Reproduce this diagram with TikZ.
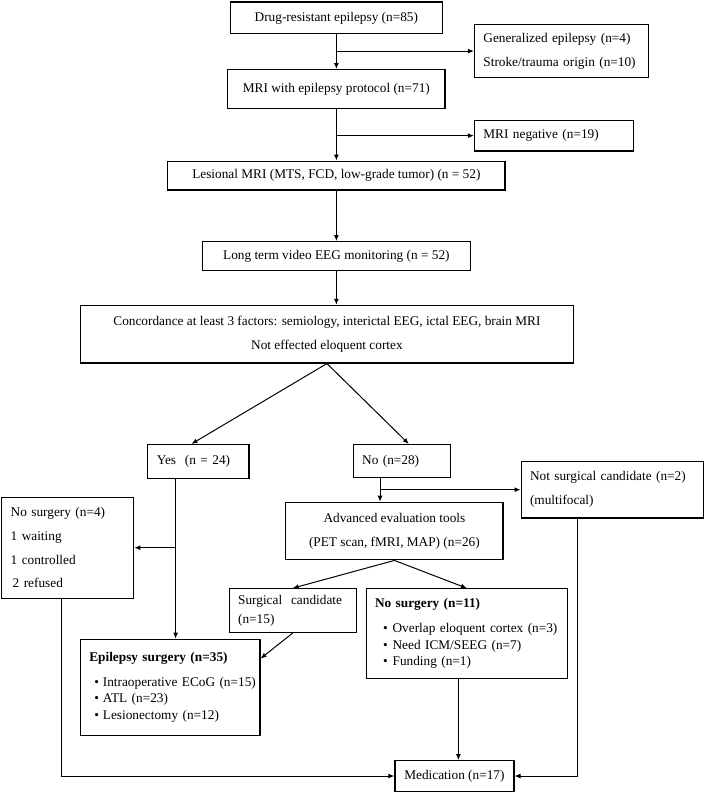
\documentclass[tikz,border=0pt]{standalone}
\usepackage{fontspec}
\setmainfont{Liberation Serif}
\usetikzlibrary{positioning, arrows.meta}

\begin{document}
\begin{tikzpicture}[
        x=1pt, y=1pt,
        node distance=35pt and 30pt,
        >={Latex[width=5pt,length=6pt]},
        box/.style={rectangle, draw=black, line width=1.2pt, inner sep=0pt, align=center, font=\fontsize{13.4}{24}\selectfont},
        listbox/.style={box, align=left, inner xsep=9pt},
        bulletbox/.style={listbox, font=\fontsize{13.4}{17}\selectfont},
        line/.style={draw, ->, line width=1pt},
        mainline/.style={line, line width=1.4pt},
        ]

        \path[fill=white] (0,0) rectangle (709,-792);

        % Place nodes down the main column
        \node [box, minimum width=214pt, minimum height=32pt] (drug) at (339,-18) {Drug-resistant epilepsy (n=85)};
        \node [listbox, text width=157pt, minimum height=53pt, right=31pt of drug, yshift=-33.5pt] (generalized) {Generalized epilepsy (n=4)\\Stroke/trauma origin (n=10)};
        \node [box, minimum width=219pt, minimum height=39pt, below=35pt of drug] (mri) {MRI with epilepsy protocol (n=71)};
        \node [listbox, text width=142pt, minimum height=31pt, right=28.5pt of mri, yshift=-47pt] (negative) {MRI negative (n=19)};
        \node [box, minimum width=340pt, minimum height=29pt, below=52pt of mri] (lesional) {Lesional MRI (MTS, FCD, low-grade tumor) (n = 52)};
        \node [box, minimum width=270pt, minimum height=29pt, below=51pt of lesional] (video) {Long term video EEG monitoring (n = 52)};
        \node [box, minimum width=497pt, minimum height=58pt, below=34pt of video, xshift=-9.5pt] (concordance) {Concordance at least 3 factors: semiology, interictal EEG, ictal EEG, brain MRI\\Not effected eloquent cortex};

        % Yes and no branches
        \node [listbox, text width=84pt, minimum height=34pt, below=81pt of concordance, xshift=-129.5pt] (yes) {Yes~ (n = 24)};
        \node [listbox, text width=80pt, minimum height=33pt, below=81pt of concordance, xshift=75.5pt] (no) {No (n=28)};
        \node [box, minimum width=219pt, minimum height=58pt, below=24pt of no, xshift=-7.5pt] (advanced) {Advanced evaluation tools\\(PET scan, fMRI, MAP) (n=26)};
        \node [listbox, text width=166pt, minimum height=57pt, right=70pt of no, yshift=-29pt] (notcandidate) {Not surgical candidate (n=2)\\(multifocal)};
        \node [listbox, text width=115pt, minimum height=102pt, left=13pt of yes, yshift=-87pt] (nosurgeryA) {No surgery (n=4)\\1 waiting\\1 controlled\\\hspace*{2pt}2 refused};
        \node [listbox, text width=110pt, minimum height=44pt, below=28pt of advanced, xshift=-102.5pt] (candidate) {Surgical~ candidate\\[-5pt](n=15)};
        \node [bulletbox, text width=185pt, minimum height=90pt, below=28pt of advanced, xshift=73pt] (nosurgeryB) {\textbf{No surgery (n=11)}\\[8pt]
            \mbox{\hspace*{8pt}\textbullet\hspace{5pt}Overlap eloquent cortex (n=3)}\\
            \mbox{\hspace*{8pt}\textbullet\hspace{5pt}Need ICM/SEEG (n=7)}\\
            \mbox{\hspace*{8pt}\textbullet\hspace{5pt}Funding (n=1)}};
        \node [bulletbox, text width=163pt, minimum height=97pt, below=161pt of yes, xshift=-28.5pt] (surgery) {\textbf{Epilepsy surgery (n=35)}\\[8pt]
            \mbox{\hspace*{5pt}\textbullet\hspace{4pt}Intraoperative ECoG (n=15)}\\
            \mbox{\hspace*{5pt}\textbullet\hspace{4pt}ATL (n=23)}\\
            \mbox{\hspace*{5pt}\textbullet\hspace{4pt}Lesionectomy (n=12)}};
        \node [box, minimum width=120pt, minimum height=31pt, below=82pt of nosurgeryB, xshift=-12.5pt] (medication) {Medication (n=17)};

        % Draw arrows down the main column
        \draw[mainline] (drug) -- (mri);
        \draw[mainline] (mri) -- (lesional);
        \draw[mainline] (lesional) -- (video);
        \draw[mainline] (video) -- (video.south |- concordance.north);

        \draw[line] (drug.south |- generalized.west) -- (generalized.west);
        \draw[line] (mri.south |- negative.west) -- (negative.west);

        % Split after concordance
        \draw[line] (concordance.south) -- ([xshift=-7pt]yes.north);
        \draw[line] (concordance.south) -- ([xshift=7pt]no.north);

        \coordinate (yesdown) at ([xshift=-23pt]yes.south);
        \draw[line] (yesdown) -- (yesdown |- surgery.north);
        \draw[line] (yesdown |- nosurgeryA.east) -- (nosurgeryA.east);

        \coordinate (nodown) at ([xshift=-22pt]no.south);
        \draw[line] (nodown) -- (nodown |- advanced.north);
        \draw[line] (nodown |- notcandidate.west) -- (notcandidate.west);

        \draw[line] (advanced.south) -- (candidate.north);
        \draw[line] (advanced.south) -- (nosurgeryB.north);
        \draw[line] (candidate.south) -- ([yshift=29pt]surgery.east);

        % Draw arrows into medication
        \draw[line] ([xshift=4pt]medication.north |- nosurgeryB.south) -- ([xshift=4pt]medication.north);
        \draw[line] ([xshift=-6.5pt]nosurgeryA.south) |- (medication.west);
        \draw[line] ([xshift=-35pt]notcandidate.south) |- (medication.east);

    \end{tikzpicture}
\end{document}
